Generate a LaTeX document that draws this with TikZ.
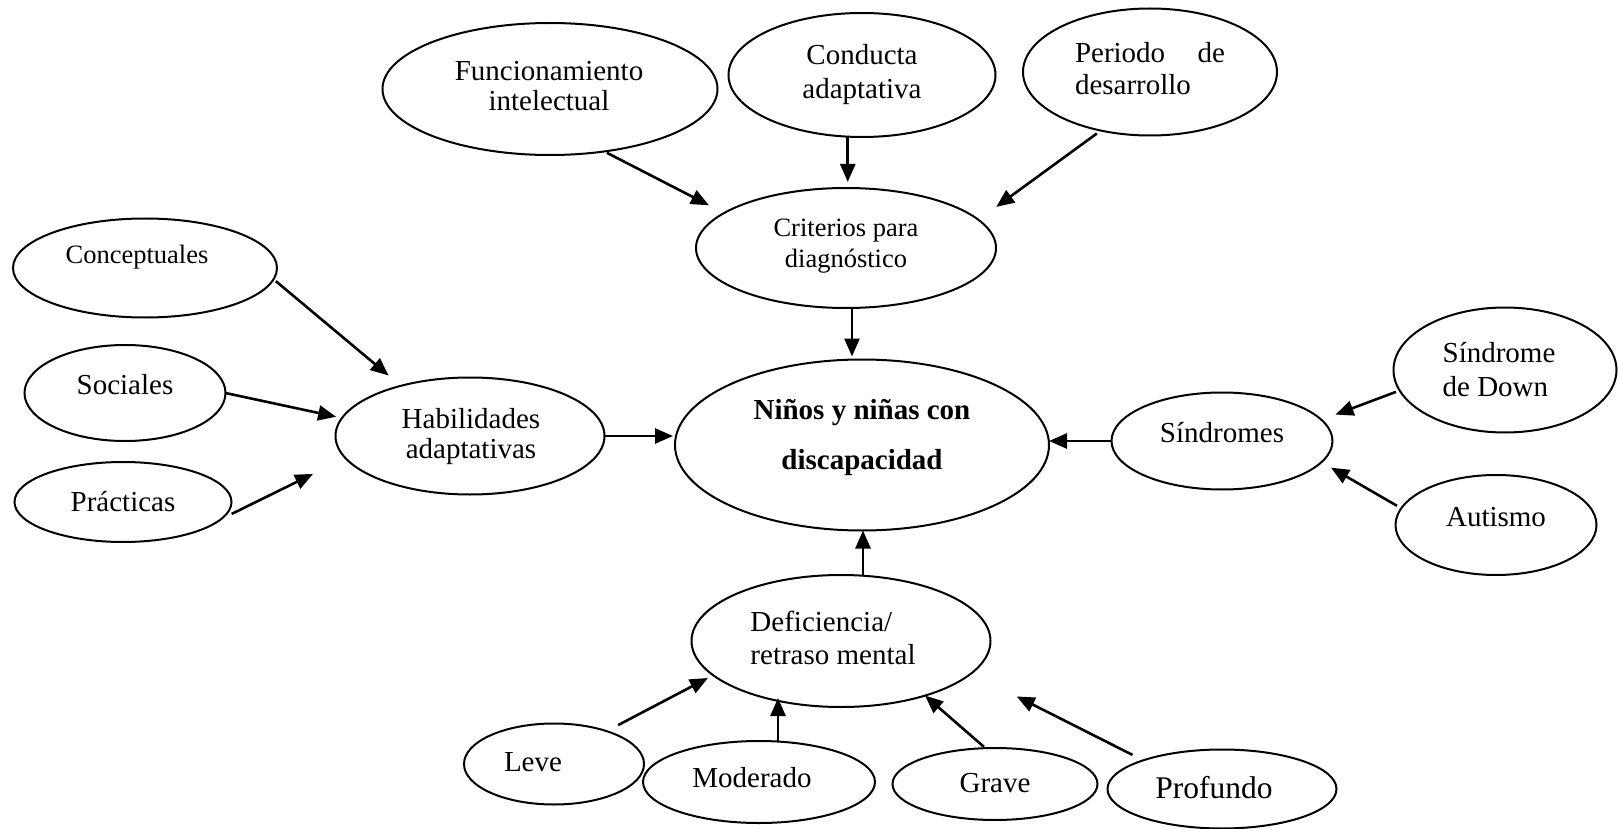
\documentclass[tikz,border=0pt]{standalone}
\usepackage{fontspec}
\setmainfont{Liberation Serif}
\usetikzlibrary{shapes.geometric,arrows.meta}
\begin{document}
\begin{tikzpicture}[x=1pt,y=-1pt,
  ov/.style={ellipse, draw, line width=2pt, inner sep=0pt, outer sep=0pt},
  tx/.style={font=\fontsize{29}{32}\selectfont, align=center, inner sep=0pt},
  sm/.style={font=\fontsize{26.5}{31}\selectfont},
  arr/.style={-{Triangle[length=18pt,width=15pt]}, line width=2.6pt},
]
\useasboundingbox (0,0) rectangle (1618,829);

% top row
\node[ov, minimum width=335pt, minimum height=132pt,
  label={[tx, font=\fontsize{29}{30}\selectfont, shift={(-1,-3)}]center:{Funcionamiento\\intelectual}}] (func) at (550,89) {};
\node[ov, minimum width=267pt, minimum height=124pt,
  label={[tx, font=\fontsize{29}{34}\selectfont]center:{Conducta\\adaptativa}}] (cond) at (862,75) {};
\node[ov, minimum width=254pt, minimum height=127pt,
  label={[tx, align=left, text width=150pt, shift={(0,-3)}]center:{Periodo\hfill de\\desarrollo}}] (per) at (1150,72) {};
\node[ov, minimum width=300pt, minimum height=120pt,
  label={[tx, sm, shift={(0,-2)}]center:{Criterios para\\diagnóstico}}] (crit) at (846,248) {};

% left column
\node[ov, minimum width=264pt, minimum height=99pt,
  label={[tx, sm, shift={(-8,-11)}]center:{Conceptuales}}] (conc) at (145,268) {};
\node[ov, minimum width=201pt, minimum height=96pt,
  label={[tx, shift={(0,-8)}]center:{Sociales}}] (soc) at (125,393) {};
\node[ov, minimum width=217pt, minimum height=80pt,
  label={[tx]center:{Prácticas}}] (prac) at (123,502) {};
\node[ov, minimum width=269pt, minimum height=117pt,
  label={[tx, font=\fontsize{29}{30}\selectfont, shift={(1,1)}]center:{Habilidades\\adaptativas}}] (hab) at (470,436) {};

% centre
\node[ov, minimum width=374pt, minimum height=171pt,
  label={[tx, font=\bfseries\fontsize{29}{50}\selectfont, shift={(0,-8)}]center:{Niños y niñas con\\discapacidad}}] (nin) at (862,445) {};

% right column
\node[ov, minimum width=221pt, minimum height=97pt,
  label={[tx, shift={(0,-8)}]center:{Síndromes}}] (sind) at (1222,441) {};
\node[ov, minimum width=223pt, minimum height=125pt,
  label={[tx, align=left, font=\fontsize{29}{34}\selectfont, shift={(-6,0)}]center:{Síndrome\\de Down}}] (down) at (1505,370) {};
\node[ov, minimum width=201pt, minimum height=100pt,
  label={[tx, shift={(0,-8)}]center:{Autismo}}] (aut) at (1496,525) {};

% bottom
\node[ov, minimum width=299pt, minimum height=132pt,
  label={[tx, align=left, font=\fontsize{29}{33}\selectfont, shift={(-8,-3)}]center:{Deficiencia/\\retraso mental}}] (def) at (841,641) {};
\node[ov, minimum width=180pt, minimum height=81pt,
  label={[tx, shift={(-21,-2)}]center:{Leve}}] (leve) at (554,764) {};
\node[ov, minimum width=232pt, minimum height=82pt,
  label={[tx, shift={(-7,-4)}]center:{Moderado}}] (mod) at (759,782) {};
\node[ov, minimum width=205pt, minimum height=72pt,
  label={[tx, shift={(0,-1)}]center:{Grave}}] (grave) at (995,784) {};
\node[ov, minimum width=229pt, minimum height=79pt,
  label={[tx, font=\fontsize{31.5}{34}\selectfont, shift={(-8,-1)}]center:{Profundo}}] (prof) at (1222,789) {};

% connectors
\draw[arr, shorten <=3pt, shorten >=17pt] (func.-49) -- (crit.164);
\draw[arr, shorten >=6pt] (cond.-103) -- (cond.-103 |- crit.north);
\draw[arr, shorten <=5pt, shorten >=22pt] (per.-130) -- (crit.12);
\draw[arr, shorten >=3pt] ([xshift=6pt]crit.south) -- ([xshift=6pt]crit.south |- nin.north);

\draw[arr, shorten <=3pt, shorten >=16pt] (conc.-5) -- (hab.144);
\draw[arr, shorten >=6pt] (soc.east) -- (hab.172);
\draw[arr, shorten <=12pt, shorten >=36pt] (prac.-10) -- (hab.-170);
\draw[arr, shorten >=2pt] (hab.east) -- (hab.east -| nin.west);

\draw[arr] (sind.west) -- (sind.west -| nin.east);
\draw[arr, shorten <=4pt, shorten >=15pt] (down.-169) -- (sind.12);
\draw[arr, shorten <=5pt, shorten >=11pt] (aut.170) -- (sind.-12);

\draw[arr] ([xshift=22pt]def.north) -- ([xshift=22pt]def.north |- nin.south);
\draw[arr, shorten <=13pt, shorten >=6pt] (leve.32) -- (def.-165);
\draw[arr, shorten >=-3pt] ([xshift=19pt]mod.north) -- ([xshift=19pt]mod.north |- def.-136);
\draw[arr, shorten <=2pt] (grave.105) -- (def.-33);
\draw[arr, shorten <=12pt, shorten >=51pt] (prof.160) -- (def.-14);
\end{tikzpicture}
\end{document}
